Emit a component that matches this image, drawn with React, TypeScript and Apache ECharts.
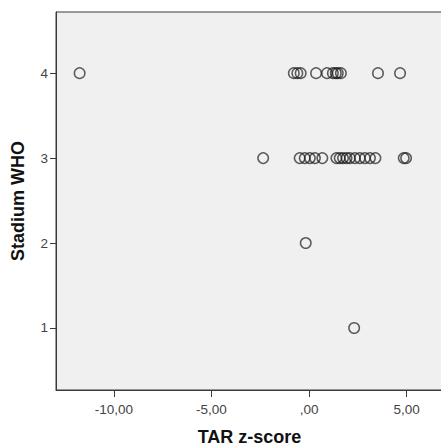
import React, { useEffect, useRef } from "react";
import * as echarts from "echarts";

const stage4Z = [-11.75, -0.78, -0.6, -0.43, 0.36, 0.92, 1.22, 1.37, 1.47, 1.63, 3.53, 4.66];
const stage3Z = [-2.35, -0.48, -0.22, 0.04, 0.3, 0.68, 1.4, 1.57, 1.74, 1.92, 2.09, 2.35, 2.6, 2.86, 3.12, 3.4, 4.85, 4.97];
const stage2Z = [-0.17];
const stage1Z = [2.31];
const xTicks = [-10, -5, 0, 5];
const yTicks = [1, 2, 3, 4];

function fmtX(v: number): string {
  const s = v.toFixed(2).replace(".", ",");
  return s === "0,00" ? ",00" : s;
}

export default function App() {
  const ref = useRef<HTMLDivElement>(null);
  useEffect(() => {
    if (!ref.current) return;
    const chart = echarts.init(ref.current, undefined, { renderer: "svg" });
    const data: number[][] = [];
    stage4Z.forEach((x) => data.push([x, 4]));
    stage3Z.forEach((x) => data.push([x, 3]));
    stage2Z.forEach((x) => data.push([x, 2]));
    stage1Z.forEach((x) => data.push([x, 1]));
    chart.setOption({
      animation: false,
      backgroundColor: "#ffffff",
      grid: {
        left: 56,
        right: -2,
        top: 12,
        bottom: 56,
        show: true,
        outerBoundsMode: "none",
        containLabel: false,
        backgroundColor: "#f0f0f0",
        borderColor: "#3a3a3a",
        borderWidth: 1,
      },
      xAxis: {
        type: "value",
        min: -12.96,
        max: 6.86,
        name: "TAR z-score",
        nameLocation: "middle",
        nameGap: 38,
        nameTextStyle: { fontFamily: "Liberation Sans", fontWeight: "bold", fontSize: 18, color: "#111" },
        splitLine: { show: false },
        axisLine: { show: true, onZero: false, lineStyle: { color: "#3a3a3a" } },
        axisTick: { show: true, length: 7, lineStyle: { color: "#3a3a3a" }, customValues: xTicks },
        axisLabel: {
          customValues: xTicks,
          formatter: (v: number) => fmtX(v),
          fontFamily: "Liberation Sans",
          fontSize: 13.5,
          color: "#444",
          margin: 12,
        },
      },
      yAxis: {
        type: "value",
        min: 0.27,
        max: 4.72,
        name: "Stadium WHO",
        nameLocation: "middle",
        nameGap: 29,
        nameTextStyle: { fontFamily: "Liberation Sans", fontWeight: "bold", fontSize: 18, color: "#111" },
        splitLine: { show: false },
        axisLine: { show: true, onZero: false, lineStyle: { color: "#3a3a3a" } },
        axisTick: { show: true, length: 6, lineStyle: { color: "#3a3a3a" }, customValues: yTicks },
        axisLabel: {
          customValues: yTicks,
          fontFamily: "Liberation Sans",
          fontSize: 13.5,
          color: "#444",
          margin: 8,
        },
      },
      series: [
        {
          type: "scatter",
          data,
          symbol: "circle",
          symbolSize: 10.5,
          itemStyle: {
            color: "rgba(0,0,0,0)",
            borderColor: "rgba(20,20,20,0.85)",
            borderWidth: 1.5,
          },
        },
      ],
    });
    return () => chart.dispose();
  }, []);
  return <div ref={ref} style={{ position: "fixed", left: 0, top: 0, width: 441, height: 446 }} />;
}
